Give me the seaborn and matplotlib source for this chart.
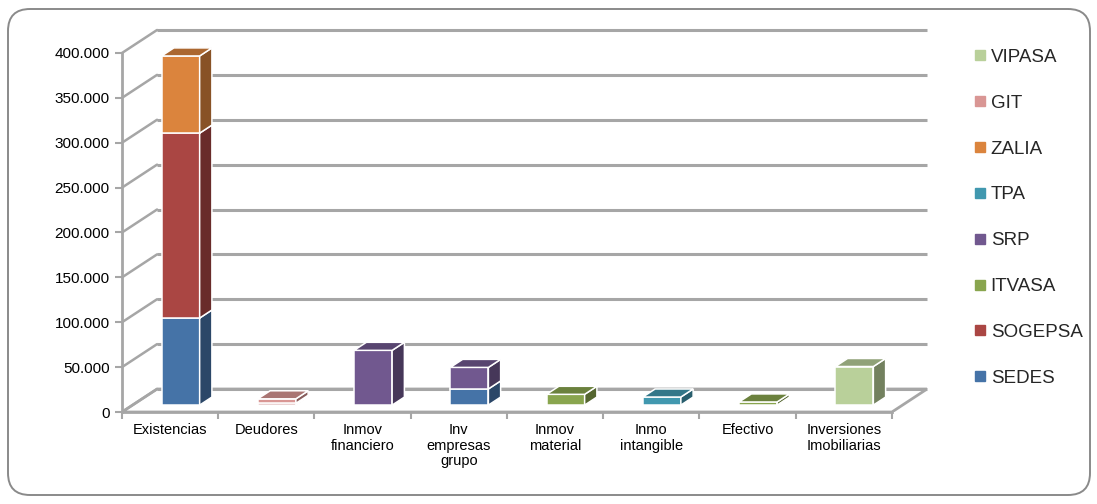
import numpy as np
import pandas as pd
import seaborn as sns
import matplotlib.pyplot as plt
from matplotlib.patches import Polygon, FancyBboxPatch
from matplotlib.lines import Line2D
from matplotlib.ticker import FuncFormatter, FixedLocator

# Data
categories = ["Existencias", "Deudores", "Inmov\nfinanciero", "Inv\nempresas\ngrupo",
              "Inmov\nmaterial", "Inmo\nintangible", "Efectivo", "Inversiones\nImobiliarias"]
sedes = [97000, 0, 0, 18000, 0, 0, 0, 0]
sogepsa = [206000, 2000, 0, 0, 0, 0, 0, 0]
itvasa = [0, 0, 0, 0, 12000, 0, 3500, 0]
srp = [0, 0, 61000, 24000, 0, 0, 0, 0]
tpa = [0, 0, 0, 0, 0, 9000, 0, 0]
zalia = [86000, 0, 0, 0, 0, 0, 0, 0]
git = [0, 5000, 0, 0, 0, 0, 0, 0]
vipasa = [0, 0, 0, 0, 0, 0, 0, 43000]

series_names = ["SEDES", "SOGEPSA", "ITVASA", "SRP", "TPA", "ZALIA", "GIT", "VIPASA"]
series_vals = [sedes, sogepsa, itvasa, srp, tpa, zalia, git, vipasa]
colors = ["#4573A7", "#AA4643", "#89A54E", "#71588F", "#4198AF", "#DB843D", "#D99694", "#B9D09A"]

df = pd.DataFrame(dict(zip(series_names, series_vals)), index=categories)

sns.set_theme(style="white")
plt.rcParams['font.family'] = ['Liberation Sans', 'DejaVu Sans']

fig = plt.figure(figsize=(10.97, 5.04), dpi=100)
ax = fig.add_axes([122 / 1097, (504 - 412) / 504, (927 - 122) / 1097, (412 - 30) / 504])

# fake 3d: depth offset of the back wall, in data units
DX, DY = 0.364, 25600
F = 0.3      # depth of the bar front face
BD = 0.35    # bar depth
W = 0.395
grid_c = "#a6a6a6"

ax.set_xlim(-0.5, 7.5 + DX)
ax.set_ylim(0, 400000 + DY)

# floor
ax.add_patch(Polygon([(-0.5, 0), (7.5, 0), (7.5 + DX, DY), (-0.5 + DX, DY)],
                     closed=True, fc="white", ec=grid_c, lw=2, zorder=1))
# back wall grid + left wall diagonals
for v in range(0, 400001, 50000):
    ax.plot([-0.5 + DX, 7.5 + DX], [v + DY, v + DY], color=grid_c, lw=2.2, zorder=1,
            clip_on=False, solid_capstyle="butt")
    ax.plot([-0.5, -0.5 + DX], [v, v + DY], color=grid_c, lw=1.8, zorder=1, clip_on=False)

# bars
x = np.arange(len(categories))
cum = np.zeros(len(categories))
top_color = [None] * len(categories)
for name, color in zip(series_names, colors):
    vals = df[name].values.astype(float)
    mask = vals > 0
    dark = tuple(c * 0.62 for c in sns.desaturate(color, 1.0))
    topc = tuple(c * 0.78 for c in sns.desaturate(color, 1.0))
    ax.bar(x[mask] + F * DX, vals[mask], width=W, bottom=cum[mask] + F * DY,
           color=color, edgecolor="white", linewidth=1.1, zorder=3)
    for i in x[mask]:
        xr = i + F * DX + W / 2
        b = cum[i] + F * DY
        t = b + vals[i]
        ax.add_patch(Polygon([(xr, b), (xr, t), (xr + BD * DX, t + BD * DY), (xr + BD * DX, b + BD * DY)],
                             closed=True, fc=dark, ec="white", lw=1.1, zorder=3))
        top_color[i] = topc
    cum = cum + vals

for i in x:
    xl = i + F * DX - W / 2
    xr = i + F * DX + W / 2
    t = cum[i] + F * DY
    ax.add_patch(Polygon([(xl, t), (xr, t), (xr + BD * DX, t + BD * DY), (xl + BD * DX, t + BD * DY)],
                         closed=True, fc=top_color[i], ec="white", lw=1.1, zorder=4))

# axes
sns.despine(ax=ax, top=True, right=True)
ax.spines["left"].set_bounds(0, 400000)
ax.spines["bottom"].set_bounds(-0.5, 7.5)
for s in ["left", "bottom"]:
    ax.spines[s].set_color(grid_c)
    ax.spines[s].set_linewidth(2)
ax.set_yticks(range(0, 400001, 50000))
ax.yaxis.set_major_formatter(FuncFormatter(lambda v, p: f"{v:,.0f}".replace(",", ".")))
ax.xaxis.set_major_locator(FixedLocator(np.arange(-0.5, 7.6, 1)))
ax.xaxis.set_minor_locator(FixedLocator(x))
ax.set_xticklabels([], minor=False)
ax.set_xticklabels(categories, minor=True, fontsize=10.5, linespacing=1.15)
ax.tick_params(axis="x", which="major", direction="out", length=5, width=1.5, color=grid_c, bottom=True)
ax.tick_params(axis="x", which="minor", length=0, pad=8, labelcolor="black")
ax.tick_params(axis="y", direction="out", length=5, width=1.5, color=grid_c, left=True,
               labelsize=11, labelcolor="black", pad=4)
ax.grid(False)
ax.set_facecolor("none")

# legend (top entry = last series)
handles = [Line2D([], [], marker="s", ls="", color=c, markersize=6.5) for c in colors[::-1]]
fig.legend(handles, series_names[::-1], loc="upper left", bbox_to_anchor=(955 / 1097, 1 - 32 / 504),
           frameon=False, fontsize=13.5, labelspacing=1.53, handletextpad=0.1, handlelength=0.9)

# rounded chart border
fig.patches.append(FancyBboxPatch((0.08, 0.09), 10.82, 4.86, boxstyle="round,pad=0,rounding_size=0.22",
                                  transform=fig.dpi_scale_trans, fill=False, ec="#8a8a8a", lw=1.4))

fig.savefig("out.png", dpi=100)
